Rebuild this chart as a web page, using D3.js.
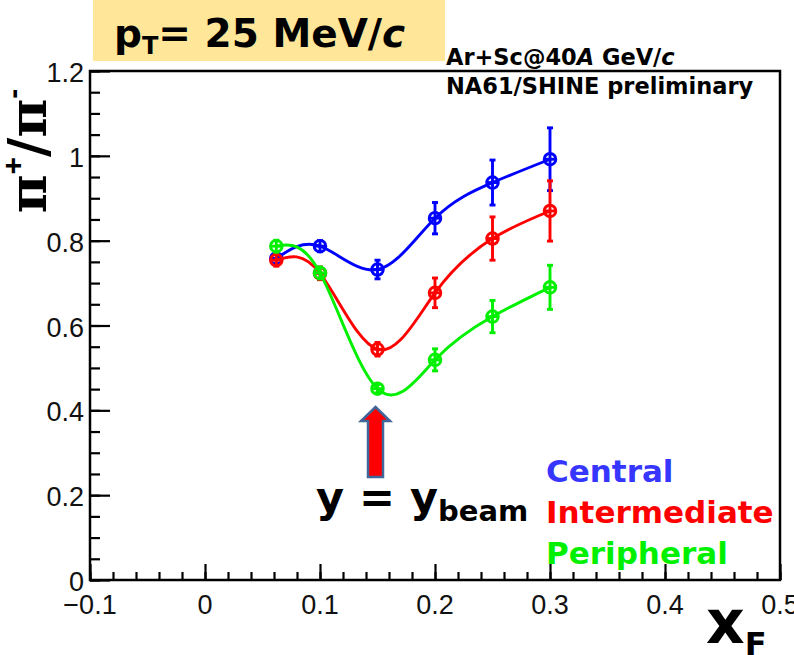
<!DOCTYPE html>
<html>
<head>
<meta charset="utf-8">
<script src="https://cdn.jsdelivr.net/npm/d3@7"></script>
<style>
  html, body { margin: 0; padding: 0; background: #fff; }
  svg { display: block; }
</style>
</head>
<body>
<svg id="chart" width="794" height="655"></svg>
<script>
// pi+/pi- ratio vs Feynman x at pT = 25 MeV/c, Ar+Sc at 40A GeV/c
const xF = [0.062, 0.1, 0.15, 0.2, 0.25, 0.3];
const central = [0.758, 0.787, 0.732, 0.853, 0.937, 0.992];
const centralErr = [0.012, 0.013, 0.022, 0.037, 0.053, 0.074];
const intermediate = [0.754, 0.723, 0.544, 0.677, 0.805, 0.870];
const intermediateErr = [0.014, 0.015, 0.016, 0.035, 0.051, 0.071];
const peripheral = [0.787, 0.724, 0.451, 0.519, 0.621, 0.690];
const peripheralErr = [0.014, 0.014, 0.010, 0.026, 0.038, 0.052];

const seriesNames = ["Central", "Intermediate", "Peripheral"];
const xTickValues = [-0.1, 0, 0.1, 0.2, 0.3, 0.4, 0.5];
const yTickValues = [0, 0.2, 0.4, 0.6, 0.8, 1, 1.2];
const arrowX = 0.15;

const svg = d3.select("#chart");
const frame = { left: 90, right: 780, top: 71, bottom: 580 };

const x = d3.scaleLinear().domain([-0.1, 0.5]).range([frame.left, frame.right]);
const y = d3.scaleLinear().domain([0, 1.2]).range([frame.bottom, frame.top]);

// header box
svg.append("rect").attr("x", 93).attr("y", 0).attr("width", 352).attr("height", 61)
  .attr("fill", "#ffe699");
const head = svg.append("text").attr("x", 114).attr("y", 47)
  .attr("font-family", "DejaVu Sans").attr("font-weight", "bold").attr("font-size", 39)
  .attr("fill", "#000");
head.append("tspan").text("p");
head.append("tspan").attr("font-size", 24).attr("dy", 7).text("T");
head.append("tspan").attr("dy", -7).text("= 25 MeV/");
head.append("tspan").attr("font-style", "italic").text("c");

// experiment labels
const exp = svg.append("g").attr("font-family", "DejaVu Sans").attr("font-weight", "bold")
  .attr("font-size", 22.5).attr("fill", "#000");
const l1 = exp.append("text").attr("x", 446).attr("y", 65);
l1.append("tspan").text("Ar+Sc@40");
l1.append("tspan").attr("font-style", "italic").text("A");
l1.append("tspan").text(" GeV/");
l1.append("tspan").attr("font-style", "italic").text("c");
exp.append("text").attr("x", 446).attr("y", 94).text("NA61/SHINE preliminary");

// frame
svg.append("rect").attr("x", frame.left).attr("y", frame.top)
  .attr("width", frame.right - frame.left).attr("height", frame.bottom - frame.top)
  .attr("fill", "none").attr("stroke", "#000").attr("stroke-width", 2.5);

// axes: ticks point into the frame
const yAxisMajor = d3.axisRight(y).tickValues(yTickValues).tickSize(20).tickFormat("");
const yAxisMinor = d3.axisRight(y).tickValues(d3.range(0, 1.2001, 0.05)).tickSize(10).tickFormat("");
const xAxisMajor = d3.axisTop(x).tickValues(xTickValues).tickSize(16).tickFormat("");
const xAxisMinor = d3.axisTop(x).tickValues(d3.range(-0.1, 0.5001, 0.02)).tickSize(8).tickFormat("");

[yAxisMinor, yAxisMajor].forEach(ax => {
  const g = svg.append("g").attr("transform", `translate(${frame.left},0)`).call(ax);
  g.select(".domain").remove();
  g.selectAll("line").attr("stroke", "#000").attr("stroke-width", 2.2);
});
[xAxisMinor, xAxisMajor].forEach(ax => {
  const g = svg.append("g").attr("transform", `translate(0,${frame.bottom})`).call(ax);
  g.select(".domain").remove();
  g.selectAll("line").attr("stroke", "#000").attr("stroke-width", 2.2);
});

// tick labels
const fmt = v => (v < 0 ? "\u2212" : "") + d3.format("~g")(Math.abs(v));
svg.append("g").selectAll("text").data(yTickValues).join("text")
  .attr("x", 84).attr("y", d => y(d) + 11)
  .attr("text-anchor", "end").attr("font-family", "Liberation Sans").attr("font-size", 27)
  .attr("fill", "#111").text(fmt);
svg.append("g").selectAll("text").data(xTickValues).join("text")
  .attr("x", d => x(d)).attr("y", 614)
  .attr("text-anchor", "middle").attr("font-family", "Liberation Sans").attr("font-size", 27)
  .attr("fill", "#111").text(fmt);

// axis titles
const yt = svg.append("text")
  .attr("transform", "translate(46,151) rotate(-90)")
  .attr("text-anchor", "middle").attr("font-family", "DejaVu Serif")
  .attr("font-weight", "bold").attr("font-size", 53).attr("fill", "#000");
yt.append("tspan").text("\u03c0");
yt.append("tspan").attr("font-family", "Liberation Sans").attr("font-size", 30).attr("dy", -23).text("+");
yt.append("tspan").attr("font-family", "DejaVu Sans").attr("dy", 23).text("/");
yt.append("tspan").text("\u03c0");
yt.append("tspan").attr("font-family", "Liberation Sans").attr("font-size", 30).attr("dy", -23).text("-");

const xt = svg.append("text").attr("x", 706).attr("y", 643)
  .attr("font-family", "DejaVu Sans").attr("font-weight", "bold").attr("font-size", 60).attr("fill", "#000");
xt.append("tspan").text("x");
xt.append("tspan").attr("font-size", 32).attr("dy", 12).text("F");

// beam-rapidity arrow
const ax0 = x(arrowX) - 2;
const tipY = 407, headY = 421, baseY = 477, headHalf = 14.5, shaftHalf = 7.5;
svg.append("path")
  .attr("d", `M${ax0},${tipY} L${ax0 + headHalf},${headY} L${ax0 + shaftHalf},${headY} L${ax0 + shaftHalf},${baseY}
              L${ax0 - shaftHalf},${baseY} L${ax0 - shaftHalf},${headY} L${ax0 - headHalf},${headY} Z`)
  .attr("fill", "#ff0000").attr("stroke", "#41669a").attr("stroke-width", 2.5).attr("stroke-linejoin", "miter");

const yb = svg.append("text").attr("x", 316).attr("y", 512)
  .attr("font-family", "DejaVu Sans").attr("font-weight", "bold").attr("font-size", 43).attr("fill", "#000");
yb.append("tspan").text("y = y");
yb.append("tspan").attr("font-size", 29).attr("dy", 9).text("beam");

// data series
const series = [
  { name: "Central", vals: central, errs: centralErr, color: "#0000ff", text: "#3636ff" },
  { name: "Intermediate", vals: intermediate, errs: intermediateErr, color: "#ff0000", text: "#ff0000" },
  { name: "Peripheral", vals: peripheral, errs: peripheralErr, color: "#00f000", text: "#00f000" }
];

const line = d3.line().x(d => x(d.x)).y(d => y(d.y)).curve(d3.curveNatural);

series.forEach(s => {
  const pts = xF.map((v, i) => ({ x: v, y: s.vals[i], e: s.errs[i] }));
  const g = svg.append("g").attr("stroke", s.color).attr("fill", "none").attr("stroke-width", 2.9);
  g.append("path").attr("d", line(pts));
  const p = g.selectAll("g.pt").data(pts).join("g").attr("class", "pt");
  p.append("line").attr("x1", d => x(d.x)).attr("x2", d => x(d.x))
    .attr("y1", d => y(d.y - d.e)).attr("y2", d => y(d.y + d.e));
  p.append("line").attr("x1", d => x(d.x) - 3).attr("x2", d => x(d.x) + 3)
    .attr("y1", d => y(d.y + d.e)).attr("y2", d => y(d.y + d.e));
  p.append("line").attr("x1", d => x(d.x) - 3).attr("x2", d => x(d.x) + 3)
    .attr("y1", d => y(d.y - d.e)).attr("y2", d => y(d.y - d.e));
  p.append("line").attr("x1", d => x(d.x) - 5.5).attr("x2", d => x(d.x) + 5.5)
    .attr("y1", d => y(d.y)).attr("y2", d => y(d.y));
  p.append("circle").attr("cx", d => x(d.x)).attr("cy", d => y(d.y)).attr("r", 5.8);
});

// legend
svg.append("g").selectAll("text").data(series).join("text")
  .attr("x", 546).attr("y", (d, i) => 482 + i * 41)
  .attr("font-family", "DejaVu Sans").attr("font-weight", "bold").attr("font-size", 31)
  .attr("fill", d => d.text).text(d => d.name);
</script>
</body>
</html>
